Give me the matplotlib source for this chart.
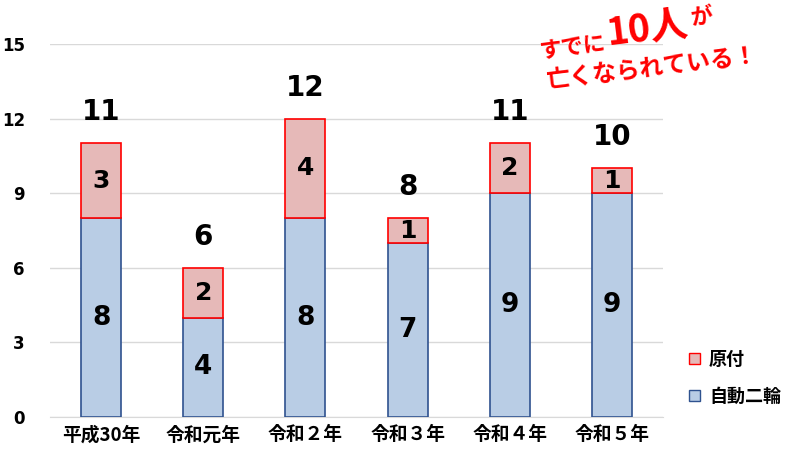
import matplotlib
matplotlib.use("Agg")
import matplotlib.pyplot as plt
import numpy as np
from matplotlib.patches import Patch

plt.rcParams['font.family'] = ['Noto Sans CJK JP', 'DejaVu Sans']

# データ
years = ["平成30年", "令和元年", "令和２年", "令和３年", "令和４年", "令和５年"]
jidonirin = [8, 4, 8, 7, 9, 9]   # 自動二輪
gentsuki = [3, 2, 4, 1, 2, 1]    # 原付
y_ticks = [0, 3, 6, 9, 12, 15]

BLUE_FILL = "#B9CDE5"
BLUE_EDGE = "#2F528F"
PINK_FILL = "#E6B9B8"
PINK_EDGE = "#FF0000"
NUM_FONT = ['DejaVu Sans']

fig = plt.figure(figsize=(7.87, 4.54), dpi=100)
ax = fig.add_axes([0.0635, 0.0815, 0.779, 0.8215])

x = np.arange(len(years))
w = 0.39
ax.bar(x, jidonirin, w, color=BLUE_FILL, edgecolor=BLUE_EDGE, linewidth=1.2, zorder=3)
ax.bar(x, gentsuki, w, bottom=jidonirin, color=PINK_FILL, edgecolor=PINK_EDGE,
       linewidth=1.2, zorder=3)

# 値ラベル
for i in range(len(years)):
    ax.text(x[i], jidonirin[i] / 2, str(jidonirin[i]), ha='center', va='center',
            fontsize=19, fontweight='bold', family=NUM_FONT, zorder=4)
    ax.text(x[i], jidonirin[i] + gentsuki[i] / 2, str(gentsuki[i]), ha='center',
            va='center', fontsize=18, fontweight='bold', family=NUM_FONT, zorder=4)
    total = jidonirin[i] + gentsuki[i]
    ax.text(x[i], total + 1.25, str(total), ha='center', va='center',
            fontsize=20, fontweight='bold', family=NUM_FONT, zorder=4)

ax.set_xlim(-0.5, len(years) - 0.5)
ax.set_ylim(0, 15)
ax.set_yticks(y_ticks)
ax.set_yticklabels([str(t) for t in y_ticks], fontsize=12, fontweight='bold',
                   family=NUM_FONT)
ax.set_xticks(x)
ax.set_xticklabels(years, fontsize=13.5, fontweight='bold')
ax.tick_params(axis='both', length=0)
ax.tick_params(axis='y', pad=18)
ax.tick_params(axis='x', pad=6)
ax.grid(axis='y', color='#D9D9D9', linewidth=1, zorder=0)
for s in ['top', 'right', 'left']:
    ax.spines[s].set_visible(False)
ax.spines['bottom'].set_color('#D9D9D9')

# 凡例
handles = [Patch(facecolor=PINK_FILL, edgecolor=PINK_EDGE, label="原付"),
           Patch(facecolor=BLUE_FILL, edgecolor=BLUE_EDGE, label="自動二輪")]
leg = fig.legend(handles=handles, loc='upper left', bbox_to_anchor=(0.855, 0.265),
                 frameon=False, handlelength=0.6, handleheight=0.6, handletextpad=0.5,
                 labelspacing=1.0, prop={'size': 13, 'weight': 'bold'})

# 注釈
fig.text(0.683, 0.895, "すでに", color='red', fontsize=16, fontweight='bold',
         rotation=7, ha='left', va='center')
fig.text(0.768, 0.935, "10人", color='red', fontsize=27, fontweight='bold',
         rotation=7, ha='left', va='center')
fig.text(0.876, 0.963, "が", color='red', fontsize=16, fontweight='bold',
         rotation=7, ha='left', va='center')
fig.text(0.693, 0.85, "亡くなられている！", color='red', fontsize=17, fontweight='bold',
         rotation=7, ha='left', va='center')

fig.savefig("out.png", dpi=100)
